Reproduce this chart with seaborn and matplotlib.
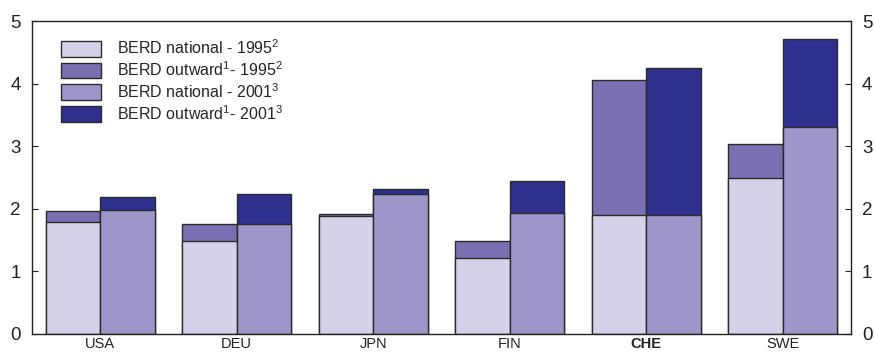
import matplotlib
matplotlib.use("Agg")
import matplotlib.pyplot as plt
from matplotlib.patches import Patch
import seaborn as sns
import pandas as pd

countries = ["USA", "DEU", "JPN", "FIN", "CHE", "SWE"]
national_1995 = [1.79, 1.48, 1.88, 1.21, 1.90, 2.49]
outward_1995 = [0.18, 0.28, 0.03, 0.28, 2.15, 0.54]
national_2001 = [1.98, 1.75, 2.24, 1.94, 1.90, 3.30]
outward_2001 = [0.21, 0.49, 0.07, 0.50, 2.35, 1.42]
years = ["1995", "2001"]

c_nat95 = "#d5d1e8"
c_out95 = "#7870b0"
c_nat01 = "#9d96c8"
c_out01 = "#2e2f8f"
edge = "#2b2b2b"

sns.set_theme(style="white")
plt.rcParams["font.family"] = ["Liberation Sans", "DejaVu Sans"]
plt.rcParams["mathtext.fontset"] = "custom"
plt.rcParams["mathtext.rm"] = "Liberation Sans"
plt.rcParams["mathtext.it"] = "Liberation Sans"

rows = []
for i, c in enumerate(countries):
    rows.append({"country": c, "year": "1995", "national": national_1995[i],
                 "total": national_1995[i] + outward_1995[i]})
    rows.append({"country": c, "year": "2001", "national": national_2001[i],
                 "total": national_2001[i] + outward_2001[i]})
df = pd.DataFrame(rows)

fig = plt.figure(figsize=(8.74, 3.54), dpi=100)
ax = fig.add_axes([32 / 874, 1 - 334 / 354, (851 - 32) / 874, (334 - 21) / 354])

# Full stacks (national + outward) first, then national share on top
sns.barplot(data=df, x="country", y="total", hue="year", order=countries,
            hue_order=years, palette=[c_out95, c_out01], width=0.8, gap=0,
            edgecolor=edge, linewidth=1.0, saturation=1, ax=ax, legend=False)
sns.barplot(data=df, x="country", y="national", hue="year", order=countries,
            hue_order=years, palette=[c_nat95, c_nat01], width=0.8, gap=0,
            edgecolor=edge, linewidth=1.0, saturation=1, ax=ax, legend=False)

ax.set_xlim(-0.5, 5.5)
ax.set_ylim(0, 5)
ax.set_yticks([0, 1, 2, 3, 4, 5])
ax.set_xlabel("")
ax.set_ylabel("")
for s in ax.spines.values():
    s.set_visible(True)
    s.set_color("#222222")
    s.set_linewidth(1.0)

ax.tick_params(axis="y", which="both", direction="in", length=4, width=0.8,
               labelsize=13.5, left=True, right=True, labelleft=True,
               labelright=True, pad=8, colors="#222222")
ax.tick_params(axis="x", length=0, labelsize=10.5, pad=2, colors="#222222")
for lbl in ax.get_xticklabels():
    if lbl.get_text() == "CHE":
        lbl.set_fontweight("bold")

handles = [
    Patch(facecolor=c_nat95, edgecolor=edge, linewidth=1.0),
    Patch(facecolor=c_out95, edgecolor=edge, linewidth=1.0),
    Patch(facecolor=c_nat01, edgecolor=edge, linewidth=1.0),
    Patch(facecolor=c_out01, edgecolor=edge, linewidth=1.0),
]
labels = [
    r"BERD national - 1995$^2$",
    r"BERD outward$^1$- 1995$^2$",
    r"BERD national - 2001$^3$",
    r"BERD outward$^1$- 2001$^3$",
]
ax.legend(handles, labels, loc="upper left", bbox_to_anchor=(0.028, 0.965),
          frameon=False, fontsize=11.5, handlelength=2.5, handleheight=1.15,
          handletextpad=1.0, labelspacing=0.2, borderaxespad=0)

fig.savefig("out.png", dpi=100)
